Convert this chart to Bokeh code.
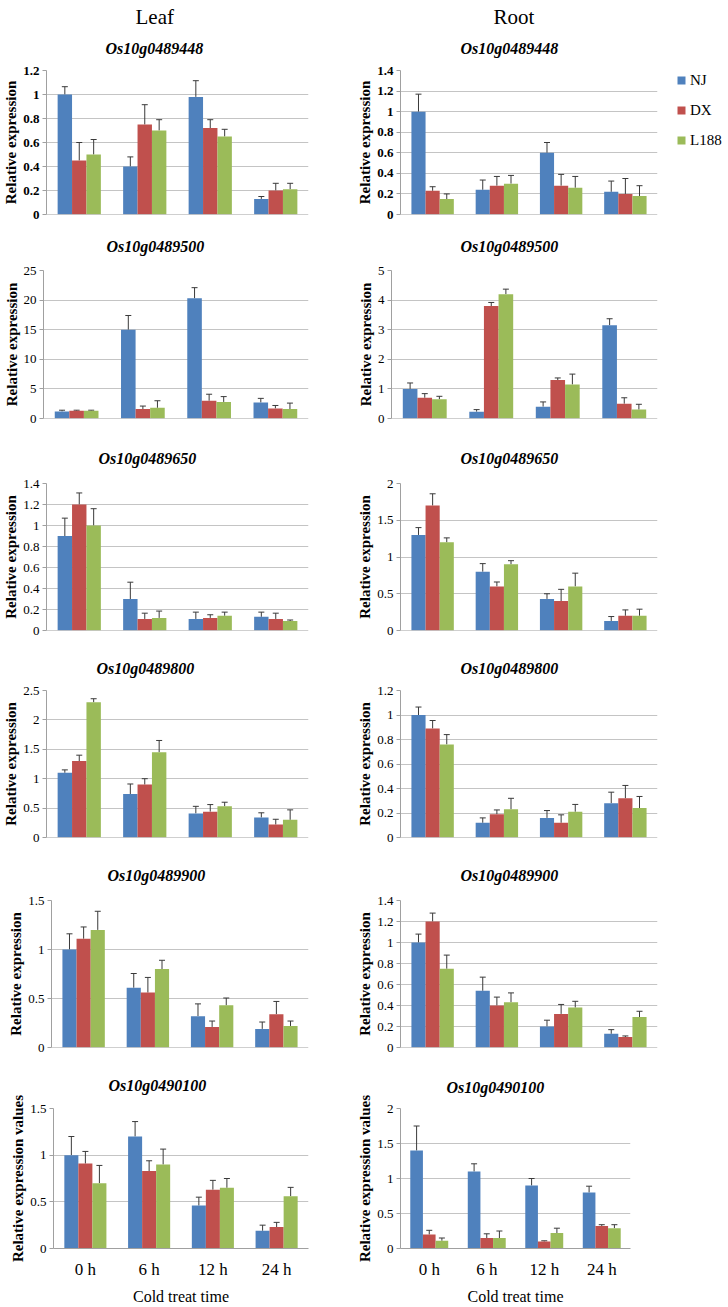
from bokeh.plotting import figure
from bokeh.layouts import column, row
from bokeh.models import (ColumnDataSource, Range1d, FactorRange, Whisker, TeeHead, FixedTicker,
                          NumeralTickFormatter, Legend, LegendItem, Title, Span)
from bokeh.transform import dodge
from bokeh.embed import file_html
from bokeh.resources import INLINE

# ---------------- data ----------------
times = ["0 h", "6 h", "12 h", "24 h"]
lines = ["NJ", "DX", "L188"]
colors = ["#4F81BD", "#C0504D", "#9BBB59"]
genes = ["Os10g0489448", "Os10g0489500", "Os10g0489650",
         "Os10g0489800", "Os10g0489900", "Os10g0490100"]
ylabels = ["Relative expression"] * 5 + ["Relative expression values"]
xlabel = "Cold treat time"
headers = ["Leaf", "Root"]

leaf_ymax = [1.2, 25, 1.4, 2.5, 1.5, 1.5]
leaf_ystep = [0.2, 5, 0.2, 0.5, 0.5, 0.5]
root_ymax = [1.4, 5, 2, 1.2, 1.4, 2]
root_ystep = [0.2, 1, 0.5, 0.2, 0.2, 0.5]

# values: rows = NJ, DX, L188 ; columns = 0 h, 6 h, 12 h, 24 h
leaf_0489448 = [[1.00, 0.40, 0.98, 0.13], [0.45, 0.75, 0.72, 0.20], [0.50, 0.70, 0.65, 0.21]]
leaf_0489448_err = [[0.065, 0.08, 0.135, 0.02], [0.15, 0.165, 0.07, 0.06], [0.125, 0.09, 0.06, 0.05]]
root_0489448 = [[1.00, 0.24, 0.60, 0.22], [0.23, 0.28, 0.28, 0.20], [0.15, 0.30, 0.26, 0.18]]
root_0489448_err = [[0.17, 0.095, 0.10, 0.105], [0.04, 0.09, 0.11, 0.15], [0.05, 0.08, 0.11, 0.10]]

leaf_0489500 = [[1.2, 15.0, 20.3, 2.7], [1.3, 1.6, 3.0, 1.7], [1.3, 1.8, 2.8, 1.6]]
leaf_0489500_err = [[0.2, 2.4, 1.8, 0.7], [0.1, 0.5, 1.1, 0.5], [0.1, 1.2, 0.9, 1.0]]
root_0489500 = [[1.00, 0.23, 0.40, 3.15], [0.70, 3.80, 1.30, 0.50], [0.65, 4.20, 1.15, 0.30]]
root_0489500_err = [[0.20, 0.07, 0.16, 0.22], [0.14, 0.12, 0.07, 0.20], [0.10, 0.17, 0.35, 0.18]]

leaf_0489650 = [[0.90, 0.30, 0.11, 0.13], [1.20, 0.11, 0.12, 0.11], [1.00, 0.12, 0.14, 0.09]]
leaf_0489650_err = [[0.17, 0.16, 0.065, 0.045], [0.11, 0.055, 0.03, 0.055], [0.16, 0.065, 0.035, 0.01]]
root_0489650 = [[1.30, 0.80, 0.43, 0.13], [1.70, 0.60, 0.40, 0.20], [1.20, 0.90, 0.60, 0.20]]
root_0489650_err = [[0.10, 0.11, 0.07, 0.06], [0.16, 0.06, 0.16, 0.08], [0.06, 0.05, 0.18, 0.09]]

leaf_0489800 = [[1.10, 0.74, 0.41, 0.34], [1.30, 0.90, 0.44, 0.22], [2.30, 1.45, 0.53, 0.30]]
leaf_0489800_err = [[0.05, 0.17, 0.12, 0.08], [0.10, 0.10, 0.12, 0.09], [0.06, 0.20, 0.07, 0.17]]
root_0489800 = [[1.00, 0.12, 0.16, 0.28], [0.89, 0.19, 0.12, 0.32], [0.76, 0.23, 0.21, 0.24]]
root_0489800_err = [[0.065, 0.04, 0.06, 0.09], [0.065, 0.035, 0.065, 0.105], [0.08, 0.09, 0.06, 0.095]]

leaf_0489900 = [[1.00, 0.61, 0.32, 0.19], [1.11, 0.56, 0.21, 0.34], [1.20, 0.80, 0.43, 0.22]]
leaf_0489900_err = [[0.16, 0.145, 0.125, 0.07], [0.12, 0.155, 0.06, 0.13], [0.19, 0.09, 0.075, 0.05]]
root_0489900 = [[1.00, 0.54, 0.20, 0.13], [1.20, 0.40, 0.32, 0.10], [0.75, 0.43, 0.38, 0.29]]
root_0489900_err = [[0.08, 0.13, 0.06, 0.04], [0.08, 0.08, 0.09, 0.01], [0.13, 0.09, 0.06, 0.055]]

leaf_0490100 = [[1.00, 1.20, 0.46, 0.19], [0.91, 0.83, 0.63, 0.23], [0.70, 0.90, 0.65, 0.56]]
leaf_0490100_err = [[0.20, 0.16, 0.09, 0.06], [0.13, 0.11, 0.10, 0.05], [0.19, 0.165, 0.10, 0.095]]
root_0490100 = [[1.40, 1.10, 0.90, 0.80], [0.20, 0.15, 0.10, 0.32], [0.11, 0.15, 0.22, 0.29]]
root_0490100_err = [[0.35, 0.11, 0.10, 0.09], [0.06, 0.06, 0.01, 0.02], [0.04, 0.10, 0.07, 0.05]]

leaf_vals = [leaf_0489448, leaf_0489500, leaf_0489650, leaf_0489800, leaf_0489900, leaf_0490100]
leaf_errs = [leaf_0489448_err, leaf_0489500_err, leaf_0489650_err, leaf_0489800_err, leaf_0489900_err, leaf_0490100_err]
root_vals = [root_0489448, root_0489500, root_0489650, root_0489800, root_0489900, root_0490100]
root_errs = [root_0489448_err, root_0489500_err, root_0489650_err, root_0489800_err, root_0489900_err, root_0490100_err]

# ---------------- layout geometry (page px) ----------------
row_top = [0, 224, 428, 640, 847, 1057, 1307]
frame_top = [68, 270, 483, 690, 900, 1108]
frame_bot = [214, 418, 630, 837, 1047, 1255]
col_x = [0, 354, 728]
legend_x0 = 665          # left edge of the legend strip (row 1 only)
left_frame_l = [46, 42, 46, 46, 51, 53]
left_frame_r = [308] * 6
right_frame_l = [394, 385, 394, 394, 394, 395]
right_frame_r = [657, 657, 657, 657, 657, 630]
left_title_x = [105, 105, 98, 96, 107, 108]
right_title_x = [454, 454, 454, 454, 454, 441]
left_title_gap = [22, 24, 25, 22, 25, 23]
right_title_gap = [22, 24, 25, 22, 25, 21]
header_x = [135, 487]
legend_top = 70
legend_glyph_x = 676

BW = 0.22
ECOL = "#3a3a3a"
AXCOL = "#a0a0a0"
GRIDCOL = "#c4c4c4"
SERIF = "Liberation Serif"


def make_panel(k, side, vals, errs, ymax, ystep):
    if side == 0:
        x0, x1, fl, fr = col_x[0], col_x[1], left_frame_l[k], left_frame_r[k]
        tx, tgap = left_title_x[k], left_title_gap[k]
    else:
        x1 = legend_x0 if k == 0 else col_x[2]
        x0, fl, fr = col_x[1], right_frame_l[k], right_frame_r[k]
        tx, tgap = right_title_x[k], right_title_gap[k]
    last = (k == 5)
    data = dict(t=times)
    for i in range(3):
        data[f"v{i}"] = vals[i]
        data[f"u{i}"] = [v + e for v, e in zip(vals[i], errs[i])]
    src = ColumnDataSource(data)

    p = figure(x_range=FactorRange(factors=times), y_range=Range1d(0, ymax),
               width=x1 - x0, height=row_top[k + 1] - row_top[k],
               min_border_left=fl - x0, min_border_right=x1 - fr,
               min_border_top=frame_top[k] - row_top[k],
               min_border_bottom=row_top[k + 1] - frame_bot[k],
               output_backend="svg", toolbar_location=None, title=None)
    p.outline_line_color = None
    p.background_fill_color = "white"
    p.border_fill_color = "white"

    # gene title (closest to the frame)
    p.add_layout(Title(text=genes[k], text_font=SERIF, text_font_size="16px",
                       text_font_style="bold italic", text_color="black",
                       align="left", offset=tx - fl, vertical_align="top",
                       standoff=int(round(2 * (tgap - 10.5)))), "above")
    if k == 0:
        p.add_layout(Title(text=headers[side], text_font=SERIF, text_font_size="21px",
                           text_font_style="normal", text_color="black",
                           align="left", offset=header_x[side] - fl,
                           vertical_align="bottom", standoff=0), "above")

    for i in range(3):
        off = (i - 1) * BW
        p.vbar(x=dodge("t", off, range=p.x_range), top=f"v{i}", width=BW,
               source=src, fill_color=colors[i], line_color=None)
        w = Whisker(base=dodge("t", off, range=p.x_range), lower=f"v{i}", upper=f"u{i}",
                    source=src, line_color=ECOL, line_width=1,
                    upper_head=TeeHead(size=6, line_color=ECOL, line_width=1),
                    lower_head=None)
        p.add_layout(w)

    nt = int(round(ymax / ystep))
    ticks = [round(j * ystep, 6) for j in range(nt + 1)]
    p.yaxis.ticker = FixedTicker(ticks=ticks)
    p.ygrid.ticker = FixedTicker(ticks=ticks)
    p.yaxis.formatter = NumeralTickFormatter(format="0.[0]")
    p.yaxis.axis_line_color = AXCOL
    p.yaxis.major_tick_line_color = AXCOL
    p.yaxis.major_tick_out = 4
    p.yaxis.major_tick_in = 0
    p.yaxis.minor_tick_line_color = None
    p.yaxis.major_label_text_font = SERIF
    p.yaxis.major_label_text_font_size = "13px"
    p.yaxis.major_label_text_font_style = "bold" if k == 0 else "normal"
    p.yaxis.major_label_text_color = "black"
    p.yaxis.major_label_standoff = 3
    p.yaxis.axis_label = ylabels[k]
    p.yaxis.axis_label_text_font = SERIF
    p.yaxis.axis_label_text_font_size = "15px"
    p.yaxis.axis_label_text_font_style = "bold"
    p.yaxis.axis_label_text_color = "black"
    p.yaxis.axis_label_standoff = 1
    p.ygrid.grid_line_color = GRIDCOL
    p.xgrid.grid_line_color = None

    if last:
        p.xaxis.axis_line_color = AXCOL
        p.xaxis.major_tick_line_color = None
        p.xaxis.minor_tick_line_color = None
        p.xaxis.major_label_text_font = SERIF
        p.xaxis.major_label_text_font_size = "17px"
        p.xaxis.major_label_text_color = "black"
        p.xaxis.major_label_standoff = 5
        p.xaxis.axis_label = xlabel
        p.xaxis.axis_label_text_font = SERIF
        p.xaxis.axis_label_text_font_size = "16px"
        p.xaxis.axis_label_text_font_style = "normal"
        p.xaxis.axis_label_text_color = "black"
        p.xaxis.axis_label_standoff = 6
    else:
        p.xaxis.visible = False
        p.add_layout(Span(location=0, dimension="width", line_color=AXCOL, line_width=1))
    return p


def make_legend_strip():
    # a narrow strip to the right of the Root panel whose frame starts where the legend starts
    h = row_top[1] - row_top[0]
    lg = figure(width=col_x[2] - legend_x0, height=h, x_range=Range1d(0, 1), y_range=Range1d(0, 1),
                x_axis_type=None, y_axis_type=None,
                min_border_left=legend_glyph_x - legend_x0, min_border_right=0,
                min_border_top=legend_top - row_top[0], min_border_bottom=0,
                output_backend="svg", toolbar_location=None, title=None)
    lg.outline_line_color = None
    lg.xgrid.visible = False
    lg.ygrid.visible = False
    # zero-height proxy bars that only serve as legend swatches
    proxy = ColumnDataSource(dict(x=[0.5], top=[0.0]))
    items = []
    for i in range(3):
        r = lg.vbar(x="x", top="top", width=0.0, source=proxy,
                    fill_color=colors[i], line_color=None)
        items.append(LegendItem(label=lines[i], renderers=[r]))
    leg = Legend(items=items, location="top_left",
                 orientation="vertical", margin=0, padding=0,
                 glyph_width=10, glyph_height=10, label_standoff=4, spacing=10,
                 label_height=20, label_text_font=SERIF, label_text_font_size="15px",
                 label_text_color="black", border_line_color=None, background_fill_alpha=0)
    lg.add_layout(leg)
    return lg


rows = []
for k in range(6):
    lp = make_panel(k, 0, leaf_vals[k], leaf_errs[k], leaf_ymax[k], leaf_ystep[k])
    rp = make_panel(k, 1, root_vals[k], root_errs[k], root_ymax[k], root_ystep[k])
    if k == 0:
        rows.append(row(lp, rp, make_legend_strip()))
    else:
        rows.append(row(lp, rp))

layout = column(*rows)
open("out.html", "w").write(file_html(layout, INLINE))
